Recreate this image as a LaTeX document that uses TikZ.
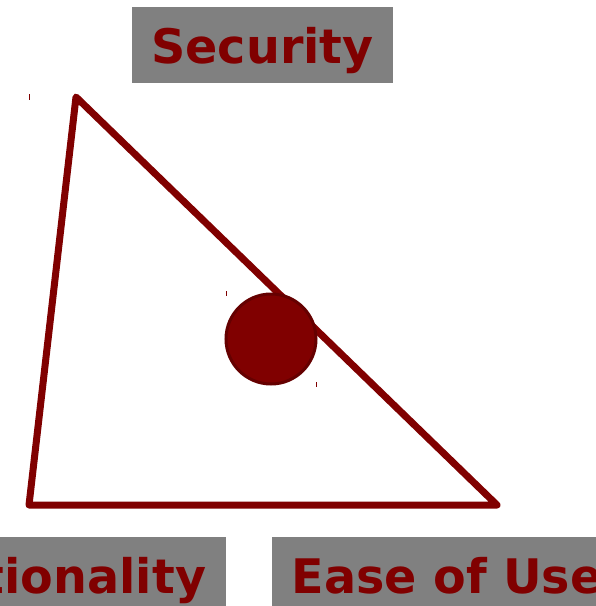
\documentclass[tikz,border=0pt]{standalone}
\usepackage{fontspec}
\setmainfont{DejaVu Sans}
\usetikzlibrary{positioning}
\definecolor{darkred}{HTML}{800000}
\definecolor{darkerred}{HTML}{650000}
\definecolor{boxgray}{HTML}{808080}

\begin{document}
\begin{tikzpicture}[x=1pt,y=-1pt]
				\tikzstyle{corner}=[fill=boxgray,draw=none,text=darkred,font=\fontsize{47.6}{56}\selectfont\bfseries,inner xsep=19.5pt,inner ysep=0pt,text height=56pt,text depth=20pt,outer sep=0pt]
				\tikzstyle{edge}=[darkred,line width=7pt,line join=round,line cap=round]
				\tikzstyle{tick}=[darkred,line width=0.8pt]
				
				\useasboundingbox (0,0) rectangle (596,606);								% Rahmen
				
				\node (sec) [corner] at (262.5,45) {Security};								% oben
				\node (fun) [corner,anchor=east] at (225.5,575) {Functionality};			% links unten
				\node (ease) [corner,anchor=west] at (272,575) {Ease of Use};				% rechts unten
				
				\coordinate (top) at (76,97);
				\coordinate (left) at (29,505);
				\coordinate (right) at (497,505);
				\draw [edge] (top) -- (left) -- (right) -- cycle;							% Dreieck
				
				\node (dot) [circle,fill=darkred,draw=darkerred,line width=3pt,minimum size=90pt,inner sep=0pt] at (271,339) {};	% Punkt
				
				\draw [tick] (29,94) -- (29,100);
				\draw [tick] (226,291) -- (226,296);
				\draw [tick] (316,382) -- (316,387);
\end{tikzpicture}
\end{document}
